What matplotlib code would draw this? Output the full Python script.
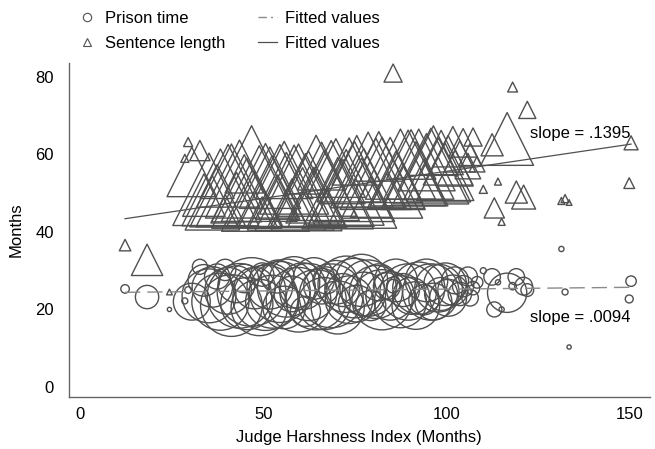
import matplotlib.pyplot as plt
from matplotlib.lines import Line2D
import numpy as np

plt.rcParams["font.family"] = ["Liberation Sans", "DejaVu Sans"]

# judge-level data: harshness index, mean sentence length, mean prison time, number of cases
harshness = [
    12.3, 18.3, 24.4, 28.6, 29.5, 30.5, 32.7,
    33.8, 35.2, 36.1, 37.4, 38.3, 39.6, 40.4, 41.3, 42.7, 43.5, 44.8, 45.5, 46.8, 47.6,
    48.9, 49.7, 50.6, 51.8, 52.4, 53.9, 54.5, 55.7, 56.3, 57.8, 58.4, 59.6, 60.7, 61.5,
    62.3, 63.8, 64.4, 65.9, 66.6, 67.2, 68.5, 69.8, 70.3, 71.7, 72.6, 73.4, 74.9, 75.5,
    76.8, 77.4, 78.6, 79.3, 80.7, 81.5, 82.4, 83.7, 84.6, 85.4, 86.2, 87.4, 88.1, 89.5,
    90.3, 91.6, 92.4, 93.8, 94.5, 95.7, 96.4, 97.8, 98.5, 99.6, 100.4, 101.7, 102.3,
    103.6, 104.5, 105.8, 106.4, 107.2, 108.3,
    110.0, 112.4, 113.0, 114.0, 115.0, 116.5, 118.0, 119.0, 121.0, 122.0,
    131.3, 132.3, 133.4, 149.8, 150.3,
]
sentence = [
    36.6, 32.8, 24.5, 59.0, 63.2, 55.5, 61.0,
    49.5, 51.0, 47.5, 53.0, 51.5, 46.0, 54.5, 52.0, 49.0, 52.5, 55.0, 50.0, 55.5, 48.5,
    52.5, 45.0, 51.5, 54.0, 50.5, 49.0, 52.0, 56.0, 50.5, 47.5, 53.5, 51.5, 48.5, 55.0,
    51.0, 49.5, 54.5, 57.0, 52.0, 46.5, 52.5, 56.5, 50.0, 53.0, 51.5, 56.0, 53.0, 58.5,
    50.0, 54.0, 56.0, 49.0, 55.0, 59.5, 54.0, 50.5, 56.0, 81.0, 53.5, 57.5, 51.5, 56.5,
    60.0, 55.0, 57.5, 53.5, 58.0, 57.0, 61.0, 56.0, 60.5, 55.5, 58.5, 62.0, 56.5,
    59.5, 63.0, 57.0, 60.0, 64.5, 57.5,
    51.0, 62.5, 46.2, 53.0, 42.6, 64.0, 77.4, 50.3, 49.0, 71.5,
    48.0, 48.6, 47.6, 52.6, 63.0,
]
prison = [
    25.3, 23.2, 20.0, 22.2, 25.0, 22.0, 31.0,
    27.5, 23.5, 25.8, 28.5, 22.0, 30.2, 24.8, 21.0, 26.5, 23.5, 28.0, 21.5, 24.5, 25.5,
    20.5, 29.0, 23.0, 26.0, 22.0, 28.5, 24.5, 20.5, 25.5, 24.0, 27.0, 22.5, 26.0, 19.5,
    24.5, 28.0, 22.5, 26.0, 21.5, 27.5, 23.5, 27.0, 20.5, 25.0, 26.5, 22.5, 25.5, 21.5,
    27.5, 24.0, 25.5, 21.0, 24.5, 27.0, 22.5, 26.0, 23.5, 26.0, 27.5, 22.0, 25.0, 24.5,
    23.5, 21.0, 25.5, 22.5, 27.5, 24.5, 22.0, 25.5, 24.0, 26.5, 23.0, 25.0, 27.5,
    24.0, 26.0, 28.5, 23.0, 25.5, 27.0,
    30.0, 28.4, 20.0, 27.0, 20.0, 24.3, 26.0, 28.4, 26.0, 25.0,
    35.6, 24.5, 10.3, 22.7, 27.3,
]
cases = [
    8, 60, 2, 4, 5, 150, 25,
    110, 320, 180, 70, 360, 50, 240, 420, 150, 460, 90, 300, 520, 190,
    350, 60, 470, 230, 310, 120, 410, 200, 370, 140, 290, 460, 240, 100,
    360, 190, 400, 140, 300, 80, 450, 210, 310, 120, 350, 250, 390, 150,
    300, 210, 350, 100, 310, 150, 400, 80, 260, 20, 200, 300, 120, 350,
    150, 250, 300, 100, 200, 350, 150, 250, 120, 200, 150, 100, 80,
    60, 50, 40, 30, 20, 15,
    4, 30, 25, 3, 3, 170, 6, 30, 35, 18,
    3, 4, 2, 7, 12,
]

# fitted lines (intercept, slope)
fit_sentence = (41.7, 0.1395)
fit_prison = (24.3, 0.0094)

x = np.asarray(harshness)
w = np.asarray(cases, dtype=float)
gray = "#505050"

fig = plt.figure(figsize=(6.55, 4.49), dpi=100)
ax = fig.add_axes([0.1053, 0.1158, 0.8867, 0.7439])

ax.scatter(x, prison, s=4.7 * w, marker="o", facecolors="none",
           edgecolors=gray, linewidths=1.0)
ax.scatter(x, sentence, s=8.5 * w, marker="^", facecolors="none",
           edgecolors=gray, linewidths=1.0)

xf = np.array([x.min(), x.max()])
ax.plot(xf, fit_prison[0] + fit_prison[1] * xf, color="#8a8a8a", lw=1.0,
        dashes=(11, 5))
ax.plot(xf, fit_sentence[0] + fit_sentence[1] * xf, color=gray, lw=0.9)

ax.text(122.7, 65.5, "slope = .1395", fontsize=12, va="center", ha="left")
ax.text(122.7, 17.8, "slope = .0094", fontsize=12, va="center", ha="left")

ax.set_xlim(-3.0, 155.4)
ax.set_ylim(-2.6, 83.6)
ax.set_xticks([0, 50, 100, 150])
ax.set_yticks([0, 20, 40, 60, 80])
ax.tick_params(length=0, labelsize=12, colors="black")
ax.tick_params(axis="x", pad=7)
ax.tick_params(axis="y", pad=11)
for side in ("top", "right"):
    ax.spines[side].set_visible(False)
for side in ("left", "bottom"):
    ax.spines[side].set_color("#666666")
    ax.spines[side].set_linewidth(1.0)
ax.set_xlabel("Judge Harshness Index (Months)", fontsize=12, labelpad=6)
ax.set_ylabel("Months", fontsize=12, labelpad=8)

handles = [
    Line2D([], [], marker="o", ls="none", mfc="none", mec=gray, ms=6, mew=0.8),
    Line2D([], [], marker="^", ls="none", mfc="none", mec=gray, ms=6, mew=0.8),
    Line2D([], [], color="#8a8a8a", lw=1.0, dashes=(6, 3, 1.5, 3)),
    Line2D([], [], color=gray, lw=0.9),
]
labels = ["Prison time", "Sentence length", "Fitted values", "Fitted values"]
fig.legend(handles, labels, loc="upper left", bbox_to_anchor=(0.119, 0.976),
           ncol=2, frameon=False, fontsize=12, handlelength=1.1,
           handletextpad=0.5, columnspacing=2.0, labelspacing=0.6,
           borderpad=0.0, borderaxespad=0.0)

fig.savefig("out.png", dpi=100)
